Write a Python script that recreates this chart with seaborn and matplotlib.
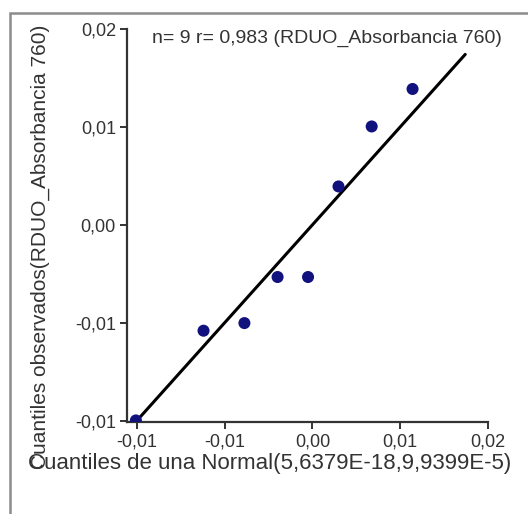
import numpy as np
import pandas as pd
import matplotlib
matplotlib.use("Agg")
import matplotlib.pyplot as plt
import seaborn as sns
from matplotlib.patches import Rectangle

# Data (theoretical normal quantiles vs observed residual quantiles)
theoretical = [-0.01588, -0.00964, -0.00587, -0.00281, 0.0, 0.00281, 0.00587, 0.00964, 0.01588]
observed = [-0.01577, -0.00835, -0.00772, -0.00391, -0.00391, 0.00358, 0.00854, 0.01164, 0.01590]
line_x = [-0.0157, 0.0145]
line_y = [-0.0157, 0.0145]
tick_values = [-0.0158, -0.0077, 0.0004, 0.0085, 0.0166]
x_tick_labels = ["-0,01", "-0,01", "0,00", "0,01", "0,02"]
y_tick_labels = ["-0,01", "-0,01", "0,00", "0,01", "0,02"]
title_text = "n= 9 r= 0,983 (RDUO_Absorbancia 760)"
xlabel = "Cuantiles de una Normal(5,6379E-18,9,9399E-5)"
ylabel = "Cuantiles observados(RDUO_Absorbancia 760)"

sns.set_style("ticks")
plt.rcParams["font.family"] = ["Liberation Sans", "DejaVu Sans"]

W, H = 528, 514
fig = plt.figure(figsize=(W / 100, H / 100), dpi=100)
ax = fig.add_axes([127 / W, 1 - 422 / H, (488 - 127) / W, (422 - 29) / H])

df_pts = pd.DataFrame({"x": theoretical, "y": observed})
df_line = pd.DataFrame({"x": line_x, "y": line_y})

sns.lineplot(data=df_line, x="x", y="y", ax=ax, color="black", linewidth=2.2, zorder=2)
sns.scatterplot(data=df_pts, x="x", y="y", ax=ax, color="#12127e", s=75,
                edgecolor="none", zorder=3, clip_on=True)

ax.set_xlim(-0.0167, 0.0166)
ax.set_ylim(-0.0159, 0.0166)
ax.set_xticks(tick_values)
ax.set_xticklabels(x_tick_labels)
ax.set_yticks(tick_values)
ax.set_yticklabels(y_tick_labels)
ax.set_xlabel("")
ax.set_ylabel("")
for s in ["top", "right"]:
    ax.spines[s].set_visible(False)
for s in ["left", "bottom"]:
    ax.spines[s].set_color("#333333")
    ax.spines[s].set_linewidth(1.6)
ax.tick_params(axis="both", length=5, width=1.4, color="#333333",
               labelsize=13, labelcolor="#333333", pad=3)

# Frame around the figure
frame = Rectangle((10 / W, -0.02), 1 - 10 / W + 0.02, 1 - 13 / H + 0.02, transform=fig.transFigure,
                  fill=False, edgecolor="#8c8c8c", linewidth=1.8, zorder=0)
fig.patches.append(frame)

fig.text(327 / W, 1 - 38 / H, title_text, ha="center", va="center", fontsize=14,
         color="#333333", zorder=10,
         bbox=dict(facecolor="white", edgecolor="none", pad=1))
fig.text(270 / W, 1 - 464 / H, xlabel, ha="center", va="center", fontsize=16,
         color="#333333")
fig.text(40 / W, 1 - 469 / H, ylabel, ha="center", va="bottom", rotation=90,
         fontsize=15, color="#333333")

fig.savefig("out.png", dpi=100)
